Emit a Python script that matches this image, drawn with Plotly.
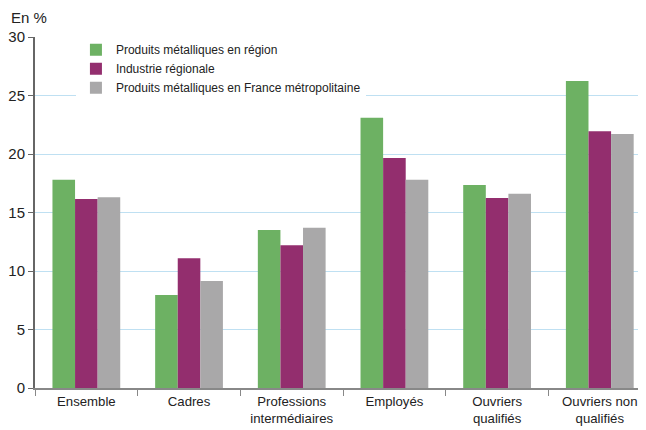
import plotly.graph_objects as go

# ── Data ──────────────────────────────────────────────────────────────────────
categories = ["Ensemble", "Cadres", "Professions<br>intermédiaires", "Employés",
              "Ouvriers<br>qualifiés", "Ouvriers non<br>qualifiés"]
metal_region = [17.8, 7.95, 13.5, 23.1, 17.35, 26.25]
industrie_regionale = [16.15, 11.1, 12.2, 19.65, 16.25, 21.95]
metal_france = [16.3, 9.15, 13.7, 17.8, 16.6, 21.7]

series = [
    ("Produits métalliques en région", metal_region, "#6db163"),
    ("Industrie régionale", industrie_regionale, "#932e6e"),
    ("Produits métalliques en France métropolitaine", metal_france, "#a9a8a9"),
]

FONT = "Liberation Sans, Arial, sans-serif"

fig = go.Figure()
for name, vals, col in series:
    fig.add_trace(go.Bar(x=categories, y=vals, name=name,
                         marker=dict(color=col, line_width=0)))

# the page body has an 8px margin, so margins are shifted to compensate
fig.update_layout(
    width=646, height=430,
    barmode="group", bargap=0.34, bargroupgap=0,
    paper_bgcolor="white", plot_bgcolor="white",
    font=dict(family=FONT, size=14, color="#222"),
    margin=dict(l=27, r=8, t=29, b=50),
    showlegend=True,
    legend=dict(x=0.067, y=1.005, xanchor="left", yanchor="top",
                bgcolor="white", font=dict(size=12, family=FONT),
                itemwidth=30, tracegroupgap=0, traceorder="normal"),
    annotations=[dict(text="En %", xref="paper", yref="paper", x=-0.043, y=1.025,
                      xanchor="left", yanchor="bottom", showarrow=False,
                      font=dict(size=15, family=FONT))],
)
fig.update_yaxes(range=[0, 30], dtick=5, showgrid=True, gridcolor="#bfe0f2",
                 gridwidth=1, showline=True, linecolor="#666", linewidth=2,
                 ticks="outside", ticklen=5, tickcolor="#666",
                 tickfont=dict(size=15), zeroline=False, automargin=False)
fig.update_xaxes(showline=True, linecolor="#888", linewidth=2,
                 ticks="outside", tickson="boundaries", ticklen=6,
                 tickcolor="#888", tickfont=dict(size=13.2),
                 range=[-0.5, 5.45], automargin=False)

fig.write_html("out.html")
